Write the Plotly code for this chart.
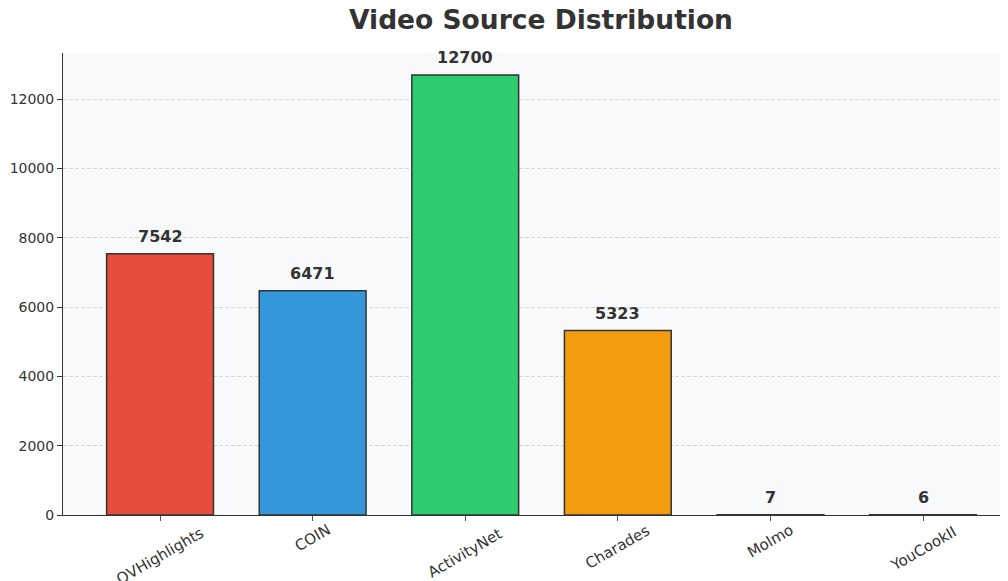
import plotly.graph_objects as go

categories = ["QVHighlights", "COIN", "ActivityNet", "Charades", "Molmo", "YouCookII"]
counts = [7542, 6471, 12700, 5323, 7, 6]
colors = ["#e74c3c", "#3498db", "#2ecc71", "#f39c12", "#9b59b6", "#1abc9c"]

x_idx = list(range(len(categories)))
FONT = "DejaVu Sans"

fig = go.Figure()
fig.add_trace(go.Bar(
    x=x_idx, y=counts, width=0.7,
    marker=dict(color=colors, line=dict(color="#333333", width=1.5)),
    hoverinfo="skip",
))

annotations = []
for i, v in zip(x_idx, counts):
    annotations.append(dict(
        x=i, y=v, xref="x", yref="y", text=f"<b>{v}</b>", showarrow=False,
        yanchor="bottom", yshift=6, font=dict(family=FONT, size=16, color="#333333"),
    ))
for i, c in zip(x_idx, categories):
    w = len(c) * 8.6
    off = 7 + (w * 0.5 + 18 * 0.866) / 2
    annotations.append(dict(
        x=i, y=0, xref="x", yref="paper", text=c, showarrow=False,
        textangle=-30, yanchor="middle", xanchor="center", yshift=-off,
        font=dict(family=FONT, size=15, color="#333333"),
    ))

fig.update_layout(
    width=1000, height=573,
    margin=dict(l=55, r=0, t=45, b=66),
    paper_bgcolor="white", plot_bgcolor="#f8f9fa",
    title=dict(text="<b>Video Source Distribution</b>", x=(541 - 8) / 1000, xanchor="center",
               y=1 - 12 / 573, yanchor="middle",
               font=dict(family=FONT, size=26.5, color="#333333")),
    showlegend=False,
    annotations=annotations,
    xaxis=dict(range=[-0.636, 5.557], tickmode="array", tickvals=x_idx, ticktext=[""] * 6,
               ticks="outside", ticklen=5, tickcolor="#555555", showgrid=False,
               showline=True, linecolor="#333333", linewidth=1, zeroline=False),
    yaxis=dict(range=[0, 13335], tickvals=[0, 2000, 4000, 6000, 8000, 10000, 12000],
               tickformat="d",
               ticks="outside", ticklen=5, tickcolor="#333333",
               tickfont=dict(family=FONT, size=14, color="#333333"),
               showgrid=True, gridcolor="#d6d6d6", griddash="4px,2px", gridwidth=1,
               showline=True, linecolor="#333333", linewidth=1, zeroline=False),
)

fig.write_html("out.html")
